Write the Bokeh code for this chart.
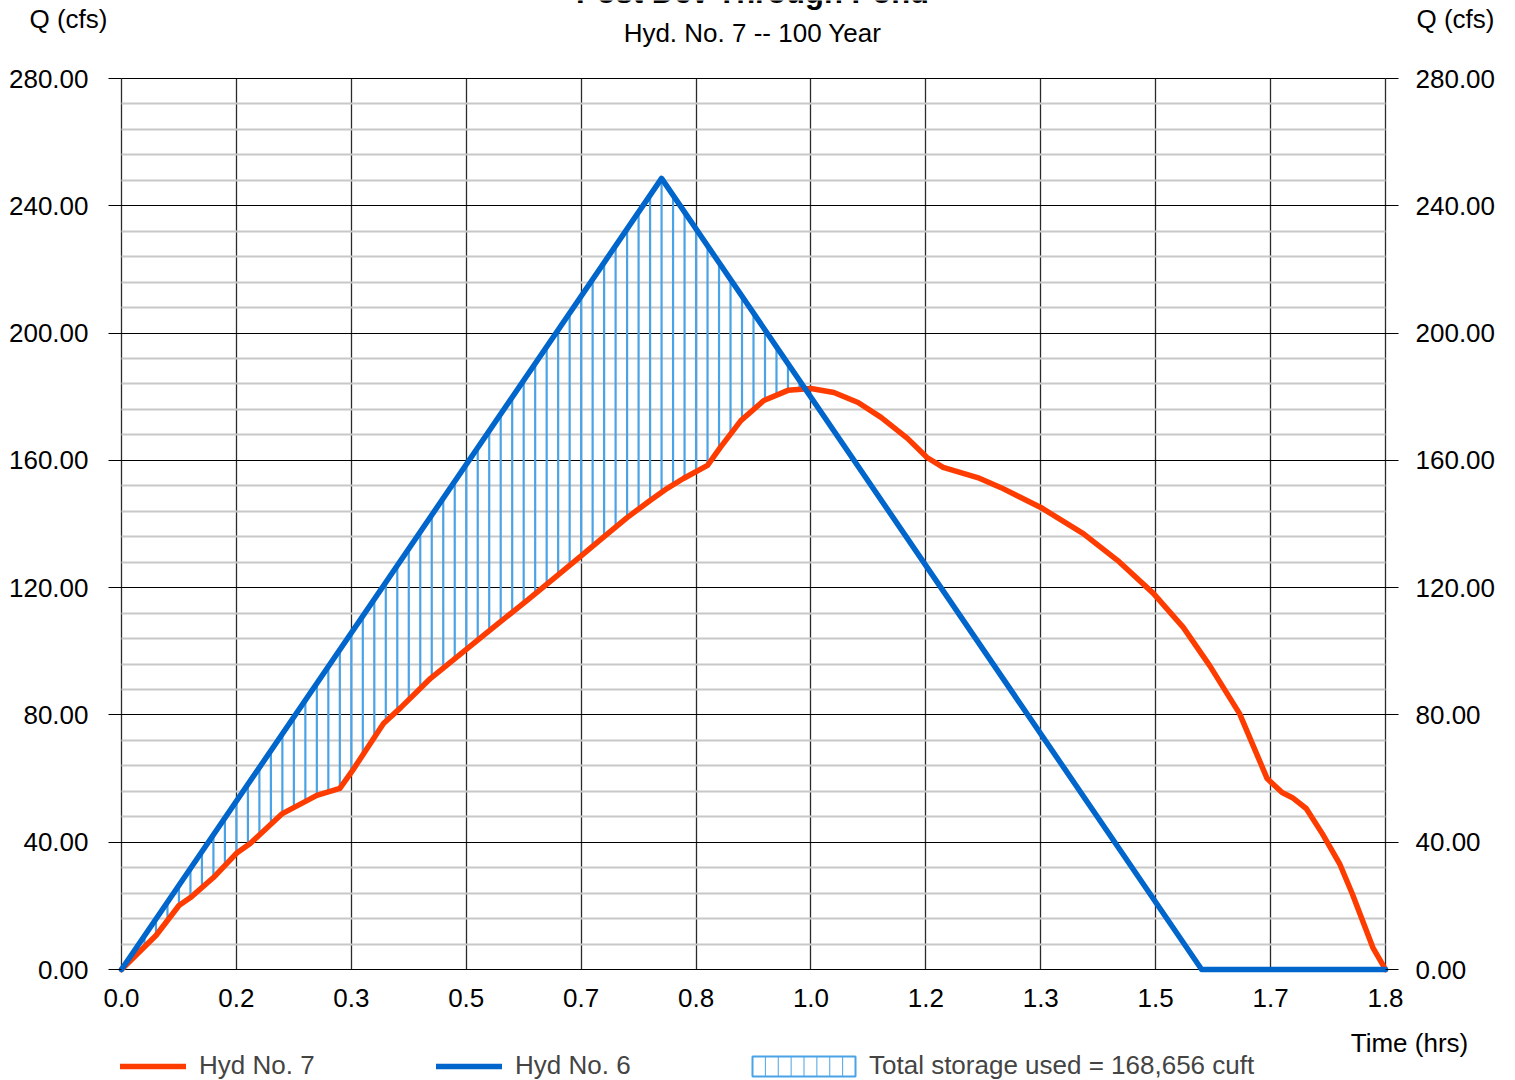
import numpy as np
from bokeh.plotting import figure
from bokeh.models import (Range1d, FixedTicker, NumeralTickFormatter, LinearAxis,
                          Label, Legend, LegendItem, ColumnDataSource, Grid)
from bokeh.embed import file_html
from bokeh.resources import INLINE

# ---------------- data ----------------
title_text = "Post Dev Through Pond"
subtitle_text = "Hyd. No. 7 -- 100 Year"
y_label = "Q (cfs)"
x_label = "Time (hrs)"

# Hyd No. 6 (inflow) - minutes, cfs
inflow_min = [0, 47, 94, 110]
inflow_q = [0.0, 248.6, 0.0, 0.0]

# Hyd No. 7 (outflow through pond) - minutes, cfs
outflow_min = [0, 3, 5, 6, 8, 10, 11.2, 14, 17, 19, 20.1, 22.8, 24.3, 26.9, 29.9,
               31.8, 35.3, 38, 40, 42, 44, 46, 47.5, 48.9, 51, 52.1, 53.9, 55.9,
               58, 60, 62, 64.1, 66.1, 68.4, 70.1, 71.5, 74.5, 76.5, 80, 83.7,
               86.7, 89.8, 92.4, 94.7, 97.3, 99.7, 101, 101.9, 103.1, 104.5,
               106, 107.1, 108.9, 110]
outflow_q = [0, 10.7, 20.1, 22.6, 28.9, 36.5, 39.6, 49, 54.7, 56.9, 62.5, 77.3,
             82.3, 91.5, 100.3, 105.9, 116, 124, 130, 136, 142, 147.4, 151.2,
             154.3, 158.4, 164, 172.5, 178.8, 182, 182.6, 181.3, 178.2, 173.5,
             166.9, 160.9, 157.8, 154.6, 151.5, 145.2, 137, 128.5, 118.2, 107.5,
             95.5, 80.4, 60, 55.6, 54, 50.6, 42.7, 33.3, 23.9, 6.9, 0]

x_ticks_min = [0, 10, 20, 30, 40, 50, 60, 70, 80, 90, 100, 110]
x_tick_labels = ["0.0", "0.2", "0.3", "0.5", "0.7", "0.8", "1.0", "1.2", "1.3", "1.5", "1.7", "1.8"]
y_ticks = [0, 40, 80, 120, 160, 200, 240, 280]
y_tick_labels = ["0.00", "40.00", "80.00", "120.00", "160.00", "200.00", "240.00", "280.00"]
y_minor = [v for v in range(8, 280, 8) if v % 40 != 0]

storage_label = "Total storage used = 168,656 cuft"
legend_labels = ["Hyd No. 7", "Hyd No. 6"]

# ---------------- derived ----------------
in_t = [m / 60 for m in inflow_min]
out_t = [m / 60 for m in outflow_min]
x_ticks = [m / 60 for m in x_ticks_min]
T_END = 110 / 60
Q_TOP = 280

hatch_min = np.arange(1, 110)
hb = np.interp(hatch_min, inflow_min, inflow_q)
hr = np.interp(hatch_min, outflow_min, outflow_q)
mask = hb > hr + 0.3
hatch_src = ColumnDataSource(dict(x=hatch_min[mask] / 60, y0=hr[mask], y1=hb[mask]))

# ---------------- layout (pixels) ----------------
W, H = 1513, 1079
PL, PR, PT, PB = 121, 1385, 78, 969          # plot-area edges in canvas px
PXH = (PR - PL) / T_END                      # px per hour
PXQ = (PB - PT) / Q_TOP                      # px per cfs

def dx(px):
    return (px - PL) / PXH

def dy(py):
    return (PB - py) / PXQ

FONT = "Liberation Sans"
RED = "#ff3c00"
BLUE = "#0066cc"
HATCH = "#4aa3e6"

p = figure(width=W, height=H, output_backend="svg", toolbar_location=None, title=None,
           x_range=Range1d(dx(0), dx(W)), y_range=Range1d(dy(H), dy(0)),
           min_border_left=0, min_border_right=0, min_border_top=0, min_border_bottom=0)
p.outline_line_color = None
p.background_fill_color = "white"
p.border_fill_color = "white"

# grids
has_cb = "cross_bounds" in Grid.properties()
if has_cb:
    p.xgrid.ticker = FixedTicker(ticks=x_ticks)
    p.xgrid.bounds = (0, T_END)
    p.xgrid.cross_bounds = (0, Q_TOP)
    p.xgrid.grid_line_color = "#2a2a2a"
    p.xgrid.grid_line_width = 1.3
    p.ygrid.ticker = FixedTicker(ticks=y_ticks, minor_ticks=y_minor)
    p.ygrid.bounds = (0, Q_TOP)
    p.ygrid.cross_bounds = (0, T_END)
    p.ygrid.grid_line_color = "black"
    p.ygrid.grid_line_width = 1
    p.ygrid.minor_grid_line_color = "#c8c8c8"
    p.ygrid.minor_grid_line_width = 2
else:
    p.xgrid.visible = False
    p.ygrid.visible = False
    p.segment(x0=[0] * len(y_minor), x1=[T_END] * len(y_minor), y0=y_minor, y1=y_minor,
              line_color="#c8c8c8", line_width=2)
    p.segment(x0=[0] * len(y_ticks), x1=[T_END] * len(y_ticks), y0=y_ticks, y1=y_ticks,
              line_color="black", line_width=1)
    p.segment(x0=x_ticks, x1=x_ticks, y0=[0] * len(x_ticks), y1=[Q_TOP] * len(x_ticks),
              line_color="#2a2a2a", line_width=1.3)

# axes (fixed at the plot-area edges)
xa = p.xaxis[0]
xa.fixed_location = 0
xa.ticker = FixedTicker(ticks=x_ticks)
xa.formatter = NumeralTickFormatter(format="0.0")
xa.major_label_overrides = dict(zip(x_ticks, x_tick_labels))
xa.axis_line_color = None
xa.major_tick_out = 0
xa.major_tick_in = 0
xa.minor_tick_out = 0
xa.minor_tick_in = 0
xa.major_label_standoff = 19
xa.major_label_text_font = FONT
xa.major_label_text_font_size = "26px"
xa.major_label_text_color = "black"

ly = p.yaxis[0]
ly.fixed_location = 0
ry = LinearAxis(fixed_location=T_END)
p.add_layout(ry, "right")
for ax in (ly, ry):
    ax.ticker = FixedTicker(ticks=y_ticks)
    ax.formatter = NumeralTickFormatter(format="0.00")
    ax.major_label_overrides = dict(zip(y_ticks, y_tick_labels))
    ax.axis_line_color = None
    ax.major_tick_out = 13
    ax.major_tick_in = 0
    ax.major_tick_line_color = "black"
    ax.minor_tick_out = 0
    ax.minor_tick_in = 0
    ax.major_label_text_font = FONT
    ax.major_label_text_font_size = "26px"
    ax.major_label_text_color = "black"
ly.major_label_standoff = 20
ry.major_label_standoff = 17

# storage hatch
p.segment(x0="x", y0="y0", x1="x", y1="y1", source=hatch_src, line_color=HATCH, line_width=2.2)

# lines
red_r = p.line(out_t, outflow_q, line_color=RED, line_width=5.5, line_join="round", line_cap="round")
blue_r = p.line(in_t, inflow_q, line_color=BLUE, line_width=5.5, line_join="round", line_cap="round")
# invisible renderer that carries the storage legend entry (key drawn below)
box_r = p.quad(left=[], right=[], top=[], bottom=[], fill_alpha=0, line_alpha=0)

def mk_legend(label, rend, x_px, gw, standoff):
    lg = Legend(items=[LegendItem(label=label, renderers=[rend])], location=(x_px, H - 1081),
                orientation="horizontal", padding=0, margin=0, spacing=0,
                glyph_width=gw, glyph_height=20, label_standoff=standoff,
                label_text_font=FONT, label_text_font_size="26px",
                background_fill_alpha=0, border_line_alpha=0)
    p.add_layout(lg, "center")

mk_legend(legend_labels[0], red_r, 120, 66, 13)
mk_legend(legend_labels[1], blue_r, 436, 66, 13)
mk_legend(storage_label, box_r, 752, 103, 14)

# hatched key box for the storage legend entry
KL, KR, KT, KB = 752, 855, 1056, 1076
n_cells = 8
key_x = [dx(KL + (KR - KL) * k / n_cells) for k in range(1, n_cells)]
p.segment(x0=key_x, x1=key_x, y0=[dy(KT)] * len(key_x), y1=[dy(KB)] * len(key_x),
          line_color=HATCH, line_width=1)
p.quad(left=[dx(KL)], right=[dx(KR)], top=[dy(KT)], bottom=[dy(KB)], fill_color=None,
       line_color=HATCH, line_width=2)

# texts
def lab(text, px, py, size="26px", style="normal", baseline="middle"):
    p.add_layout(Label(x=dx(px), y=dy(py), text=text, text_font=FONT, text_font_size=size,
                       text_font_style=style, text_align="center", text_baseline=baseline,
                       text_color="black"))

lab(title_text, 752, -8, size="31px", style="bold")
lab(subtitle_text, 752, 32)
lab(y_label, 68, 18)
lab(y_label, 1455, 18)
lab(x_label, 1409, 1042)

open("out.html", "w").write(file_html(p, INLINE))
